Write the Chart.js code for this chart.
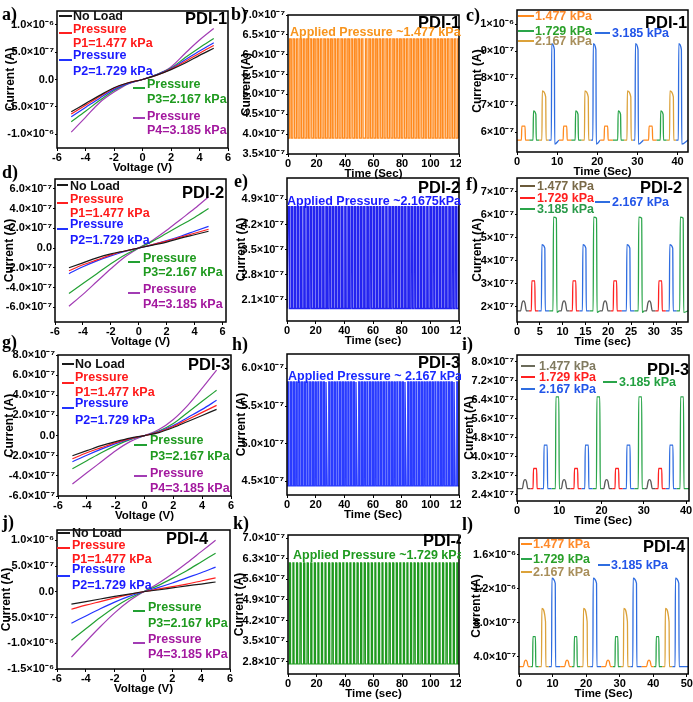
<!DOCTYPE html>
<html><head><meta charset="utf-8">
<script src="https://cdn.jsdelivr.net/npm/chart.js@4.4.1/dist/chart.umd.min.js"></script>
<style>
body{margin:0;width:693px;height:702px;position:relative;background:#fff;overflow:hidden;font-family:"Liberation Sans",Arial,sans-serif;}
canvas{position:absolute;}
.clip{position:absolute;overflow:hidden;left:230px;top:0;width:231px;height:702px;}
.t{position:absolute;font-weight:bold;white-space:nowrap;line-height:1;}
.lab{position:absolute;font-family:"Liberation Serif","Times New Roman",serif;font-weight:bold;font-size:18px;line-height:1;white-space:nowrap;}
.sw{position:absolute;height:0;border-top:2px solid;}
</style></head><body>
<div class="clip" id="mid"></div>
<script>
// ---------------- DATA ----------------
const ivVoltage = [-5,-4,-3,-2,-1,0,1,2,3,4,5];
// panel a (PDI-1)
const aNoLoad = [-5.9e-7,-4.4e-7,-2.9e-7,-1.5e-7,-0.6e-7,0,0.8e-7,1.8e-7,3.0e-7,4.4e-7,5.7e-7];
const aP1 = [-6.3e-7,-4.7e-7,-3.1e-7,-1.6e-7,-0.6e-7,0,0.8e-7,1.9e-7,3.3e-7,4.8e-7,6.2e-7];
const aP2 = [-6.8e-7,-5.1e-7,-3.4e-7,-1.8e-7,-0.7e-7,0,0.9e-7,2.0e-7,3.6e-7,5.2e-7,6.7e-7];
const aP3 = [-7.7e-7,-5.8e-7,-3.8e-7,-2.0e-7,-0.7e-7,0,0.9e-7,2.1e-7,4.0e-7,5.8e-7,7.5e-7];
const aP4 = [-9.6e-7,-6.9e-7,-4.2e-7,-2.3e-7,-0.8e-7,0,0.9e-7,2.3e-7,4.8e-7,7.2e-7,9.3e-7];
// panel d (PDI-2)
const dNoLoad = [-2.0e-7,-1.5e-7,-1.0e-7,-0.6e-7,-0.3e-7,0,0.3e-7,0.6e-7,1.0e-7,1.35e-7,1.7e-7];
const dP1 = [-2.3e-7,-1.7e-7,-1.2e-7,-0.7e-7,-0.3e-7,0,0.35e-7,0.7e-7,1.1e-7,1.5e-7,1.9e-7];
const dP2 = [-2.6e-7,-1.9e-7,-1.3e-7,-0.8e-7,-0.35e-7,0,0.35e-7,0.75e-7,1.2e-7,1.7e-7,2.2e-7];
const dP3 = [-4.6e-7,-3.6e-7,-2.6e-7,-1.6e-7,-0.7e-7,0,0.7e-7,1.5e-7,2.3e-7,3.1e-7,4.0e-7];
const dP4 = [-5.9e-7,-4.7e-7,-3.4e-7,-2.1e-7,-0.9e-7,0,0.8e-7,1.8e-7,2.9e-7,4.0e-7,5.2e-7];
// panel g (PDI-3)
const gNoLoad = [-2.0e-7,-1.5e-7,-1.0e-7,-0.6e-7,-0.25e-7,0,0.3e-7,0.8e-7,1.4e-7,2.0e-7,2.6e-7];
const gP1 = [-2.3e-7,-1.7e-7,-1.2e-7,-0.7e-7,-0.3e-7,0,0.35e-7,0.9e-7,1.6e-7,2.3e-7,3.0e-7];
const gP2 = [-2.6e-7,-1.95e-7,-1.35e-7,-0.8e-7,-0.35e-7,0,0.4e-7,1.0e-7,1.8e-7,2.6e-7,3.5e-7];
const gP3 = [-3.3e-7,-2.5e-7,-1.7e-7,-1.0e-7,-0.4e-7,0,0.45e-7,1.2e-7,2.3e-7,3.4e-7,4.5e-7];
const gP4 = [-4.8e-7,-3.7e-7,-2.6e-7,-1.5e-7,-0.6e-7,0,0.6e-7,1.6e-7,3.0e-7,4.7e-7,6.5e-7];
// panel j (PDI-4)
const jNoLoad = [-2.4e-7,-1.9e-7,-1.4e-7,-0.9e-7,-0.45e-7,0,0.35e-7,0.75e-7,1.15e-7,1.5e-7,1.9e-7];
const jP1 = [-3.4e-7,-2.6e-7,-1.9e-7,-1.2e-7,-0.55e-7,0,0.5e-7,1.0e-7,1.5e-7,2.1e-7,2.7e-7];
const jP2 = [-6.1e-7,-4.7e-7,-3.3e-7,-2.0e-7,-0.9e-7,0,0.8e-7,1.7e-7,2.7e-7,3.7e-7,4.8e-7];
const jP3 = [-9.4e-7,-7.2e-7,-5.0e-7,-3.0e-7,-1.3e-7,0,1.2e-7,2.6e-7,4.1e-7,5.8e-7,7.5e-7];
const jP4 = [-1.27e-6,-9.7e-7,-6.8e-7,-4.1e-7,-1.8e-7,0,1.6e-7,3.5e-7,5.6e-7,7.8e-7,1.0e-6];

// cycling panels: pulse onset times (s)
const bOnsets = [1.0,3.4,5.8,8.2,10.6,13.0,15.4,17.8,20.2,22.6,25.0,27.4,29.8,32.2,34.6,37.0,39.4,41.8,44.2,46.6,49.0,51.4,54.2,56.6,59.0,61.4,63.8,66.2,68.6,71.0,73.4,75.8,78.2,80.6,83.0,85.4,87.8,90.2,92.6,95.0,97.4,99.8,102.2,104.6,107.0,109.4,111.8,114.2,116.6,119.0];
const bHigh = 6.4e-7, bLow = 3.9e-7, bWidth = 1.3;
const eOnsets = [0.6,2.8,5.0,7.2,9.4,11.6,13.8,16.0,18.2,20.4,22.6,24.8,27.0,29.2,31.4,33.6,35.8,38.0,40.2,42.4,44.6,46.8,49.0,51.2,53.4,55.6,57.8,60.0,62.2,64.4,66.6,68.8,71.0,73.2,75.4,77.6,79.8,82.0,84.2,86.4,88.6,90.8,93.0,95.2,97.4,99.6,101.8,104.0,106.2,108.4,110.6,112.8,115.0,117.2,119.4];
const eHigh = 4.7e-7, eLow = 1.85e-7, eWidth = 1.1;
const hOnsets = [0.5,2.4,4.3,6.2,8.1,10.0,11.9,13.8,15.7,17.6,19.5,21.4,23.3,25.2,27.1,29.0,30.9,32.8,34.7,36.6,38.5,40.4,42.3,44.2,46.1,48.0,49.9,51.8,53.7,55.6,57.5,59.4,61.3,63.2,65.1,67.0,68.9,70.8,72.7,74.6,76.5,78.4,80.3,82.2,84.1,86.0,87.9,89.8,91.7,93.6,95.5,97.4,99.3,101.2,103.1,105.0,106.9,108.8,110.7,112.6,114.5,116.4,118.3];
const hHigh = 5.82e-7, hLow = 4.44e-7, hWidth = 0.95;
const kOnsets = [0.8,3.3,5.8,8.3,10.8,13.3,15.8,18.3,20.8,23.3,25.8,28.3,30.8,33.3,35.8,38.3,40.8,43.3,45.8,48.3,50.8,53.3,55.8,58.3,60.8,63.3,65.8,68.3,70.8,73.3,75.8,78.3,80.8,83.3,85.8,88.3,90.8,93.3,95.8,98.3,100.8,103.3,105.8,108.3,110.8,113.3,115.8,118.3];
const kHigh = 6.16e-7, kLow = 2.72e-7, kWidth = 1.0;

// panel c (PDI-1 step response)
const cBase = 5.7e-7;
const c1477On = [1.1,11.5,21.7,32.8], c1477Peak = 6.22e-7, c1477W = 1.0;
const c1729On = [4.0,14.5,25.1,35.7], c1729Peak = 6.78e-7, c1729End = 6.65e-7, c1729W = 0.8;
const c2167On = [6.2,16.8,27.4,38.0], c2167Peak = 7.52e-7, c2167End = 7.3e-7, c2167W = 1.05;
const c3185On = [8.55,18.9,29.4,40.2], c3185Peak = 9.27e-7, c3185End = 9.05e-7, c3185W = 0.85, c3185Under = 5.55e-7;
// panel f (PDI-2)
const fBase = 1.82e-7;
const f1477On = [0.8,9.7,18.7,28.4], f1477Peak = 2.25e-7, f1477W = 1.25;
const f1729On = [3.15,12.15,21.1,31.0], f1729Peak = 3.12e-7, f1729W = 0.85;
const f2167On = [5.35,14.35,24.0,33.4], f2167Peak = 4.7e-7, f2167End = 4.55e-7, f2167W = 0.85;
const f3185On = [7.9,16.7,26.6,35.7], f3185Peak = 5.9e-7, f3185End = 5.85e-7, f3185W = 0.85, f3185Under = 1.75e-7;
// panel i (PDI-3)
const iBase = 2.65e-7;
const i1477On = [1.26,10.5,20.55,30.7], i1477Peak = 3.03e-7, i1477W = 1.3;
const i1729On = [3.8,13.5,23.2,33.4], i1729Peak = 3.5e-7, i1729W = 0.95;
const i2167On = [6.3,16.05,25.9,36.05], i2167Peak = 4.48e-7, i2167W = 0.95;
const i3185On = [9.1,18.8,28.7,38.6], i3185Peak = 6.52e-7, i3185W = 0.9;
// panel l (PDI-4)
const lBase = 2.82e-7;
const l1477On = [1.3,13.6,25.8,38.0], l1477Peak = 3.6e-7, l1477W = 1.45;
const l1729On = [4.05,16.4,28.6,40.8], l1729Peak = 6.36e-7, l1729W = 0.95;
const l2167On = [6.7,19.1,31.1,43.5], l2167Peak = 9.7e-7, l2167End = 8.13e-7, l2167W = 1.3;
const l3185On = [9.7,22.0,33.9,46.5], l3185Peak = 1.325e-6, l3185End = 1.265e-6, l3185W = 1.2;

// tick values and labels
const ivXTicks = [-6,-4,-2,0,2,4,6];
const aYTicks = [1.0e-6,5.0e-7,0,-5.0e-7,-1.0e-6];
const aYLabels = ['1.0×10⁻⁶','5.0×10⁻⁷','0.0','-5.0×10⁻⁷','-1.0×10⁻⁶'];
const timeXTicks = [0,20,40,60,80,100,120];
const bYTicks = [7.0e-7,6.5e-7,6.0e-7,5.5e-7,5.0e-7,4.5e-7,4.0e-7,3.5e-7];
const bYLabels = ['7.0×10⁻⁷','6.5×10⁻⁷','6.0×10⁻⁷','5.5×10⁻⁷','5.0×10⁻⁷','4.5×10⁻⁷','4.0×10⁻⁷','3.5×10⁻⁷'];
const cXTicks = [0,10,20,30,40];
const cYTicks = [1e-6,9e-7,8e-7,7e-7,6e-7];
const cYLabels = ['1×10⁻⁶','9×10⁻⁷','8×10⁻⁷','7×10⁻⁷','6×10⁻⁷'];
const dYTicks = [6e-7,4e-7,2e-7,0,-2e-7,-4e-7,-6e-7];
const dYLabels = ['6.0×10⁻⁷','4.0×10⁻⁷','2.0×10⁻⁷','0.0','-2.0×10⁻⁷','-4.0×10⁻⁷','-6.0×10⁻⁷'];
const eYTicks = [4.9e-7,4.2e-7,3.5e-7,2.8e-7,2.1e-7];
const eYLabels = ['4.9×10⁻⁷','4.2×10⁻⁷','3.5×10⁻⁷','2.8×10⁻⁷','2.1×10⁻⁷'];
const fXTicks = [0,5,10,15,20,25,30,35];
const fYTicks = [7e-7,6e-7,5e-7,4e-7,3e-7,2e-7];
const fYLabels = ['7×10⁻⁷','6×10⁻⁷','5×10⁻⁷','4×10⁻⁷','3×10⁻⁷','2×10⁻⁷'];
const gYTicks = [8e-7,6e-7,4e-7,2e-7,0,-2e-7,-4e-7,-6e-7];
const gYLabels = ['8.0×10⁻⁷','6.0×10⁻⁷','4.0×10⁻⁷','2.0×10⁻⁷','0.0','-2.0×10⁻⁷','-4.0×10⁻⁷','-6.0×10⁻⁷'];
const hYTicks = [6.0e-7,5.5e-7,5.0e-7,4.5e-7];
const hYLabels = ['6.0×10⁻⁷','5.5×10⁻⁷','5.0×10⁻⁷','4.5×10⁻⁷'];
const iXTicks = [0,10,20,30,40];
const iYTicks = [8.0e-7,7.2e-7,6.4e-7,5.6e-7,4.8e-7,4.0e-7,3.2e-7,2.4e-7];
const iYLabels = ['8.0×10⁻⁷','7.2×10⁻⁷','6.4×10⁻⁷','5.6×10⁻⁷','4.8×10⁻⁷','4.0×10⁻⁷','3.2×10⁻⁷','2.4×10⁻⁷'];
const jYTicks = [1e-6,5e-7,0,-5e-7,-1e-6,-1.5e-6];
const jYLabels = ['1.0×10⁻⁶','5.0×10⁻⁷','0.0','-5.0×10⁻⁷','-1.0×10⁻⁶','-1.5×10⁻⁶'];
const kYTicks = [7.0e-7,6.3e-7,5.6e-7,4.9e-7,4.2e-7,3.5e-7,2.8e-7];
const kYLabels = ['7.0×10⁻⁷','6.3×10⁻⁷','5.6×10⁻⁷','4.9×10⁻⁷','4.2×10⁻⁷','3.5×10⁻⁷','2.8×10⁻⁷'];
const lXTicks = [0,10,20,30,40,50];
const lYTicks = [1.6e-6,1.2e-6,8.0e-7,4.0e-7];
const lYLabels = ['1.6×10⁻⁶','1.2×10⁻⁶','8.0×10⁻⁷','4.0×10⁻⁷'];

// ---------------- STYLE ----------------
const FONT = '"Liberation Sans", Arial, Helvetica, sans-serif';
const C = {black:'#1a1a1a', red:'#ff2020', blue:'#2233ff', green:'#22a033', purple:'#a23cb4',
  orange:'#ff8a1e', tan:'#dca23a', sblue:'#2f6de0', sgreen:'#2aa54a', gray:'#5a5a5a'};

// ---------------- BUILDERS ----------------
function ivSet(vals, color){ return {data: ivVoltage.map((v,i)=>({x:v,y:vals[i]})), borderColor:color, borderWidth:1.2, pointRadius:0, tension:0.4, cubicInterpolationMode:'monotone'}; }
function trainSet(onsets, width, hi, lo, xmax, color, lw){
  const pts=[{x:0,y:lo}];
  onsets.forEach(t=>{ pts.push({x:t,y:lo},{x:t+0.15,y:hi},{x:t+width-0.15,y:hi},{x:t+width,y:lo}); });
  pts.push({x:xmax,y:lo});
  return {data:pts, borderColor:color, borderWidth:lw, pointRadius:0, tension:0};
}
function stepSets(pulses, xmin, xmax){
  pulses.sort((a,b)=>a.on-b.on);
  const out={};
  pulses.forEach((p,i)=>{
    const end=p.on+p.w;
    const s = i===0 ? xmin : (pulses[i-1].on+pulses[i-1].w+p.on)/2;
    const e = i===pulses.length-1 ? xmax : (end+pulses[i+1].on)/2;
    const pts=[{x:s,y:p.base},{x:p.on,y:p.base}];
    if(p.hump){
      const d=p.peak-p.base;
      pts.push({x:p.on+p.w*0.25,y:p.base+d*0.8},{x:p.on+p.w*0.5,y:p.peak},{x:p.on+p.w*0.75,y:p.base+d*0.8});
    } else {
      pts.push({x:p.on+0.1,y:p.peak},{x:end-0.1,y:p.peakEnd});
    }
    pts.push({x:end,y:p.after},{x:e,y:p.base},{x:e,y:null});
    (out[p.key]=out[p.key]||[]).push(...pts);
  });
  return out;
}
function pulsesOf(key, ons, w, peak, peakEnd, base, after, hump){
  return ons.map(on=>({key, on, w, peak, peakEnd:peakEnd??peak, base, after:after??base, hump:!!hump}));
}
function lineSet(data, color){ return {data, borderColor:color, borderWidth:1.3, pointRadius:0, tension:0.3, cubicInterpolationMode:'monotone', spanGaps:false}; }

const framePlugin = {id:'frame', afterDraw(chart){ const {ctx, chartArea:a}=chart; ctx.save(); ctx.strokeStyle='#000'; ctx.lineWidth=1.5; ctx.strokeRect(a.left,a.top,a.right-a.left,a.bottom-a.top); ctx.restore(); }};

const mid = document.getElementById('mid');
function makePanel(p){
  const padTop=9, padRight=p.padRight??12, xH=p.xH??27;
  const parent = p.mid ? mid : document.body;
  const off = p.mid ? 230 : 0;
  const left = Math.round(p.ytx - 7.2);
  const top = Math.round(p.T - padTop);
  const W = Math.round(p.R + padRight - left), H = Math.round(p.B + xH - top);
  const cv = document.createElement('canvas');
  cv.width=W; cv.height=H; cv.style.width=W+'px'; cv.style.height=H+'px';
  cv.style.left=(left-off)+'px'; cv.style.top=top+'px';
  parent.appendChild(cv);
  const yW = p.L - left, xHeight = xH;
  const tickFont={family:FONT,size:11,weight:'bold'};
  new Chart(cv,{type:'line', data:{datasets:p.datasets}, plugins:[framePlugin],
    options:{responsive:false, animation:false, devicePixelRatio:1, events:[],
      layout:{padding:{top:padTop,right:padRight,left:0,bottom:0}},
      plugins:{legend:{display:false}, tooltip:{enabled:false}},
      scales:{
        x:{type:'linear', min:p.xmin, max:p.xmax, bounds:'data',
          afterBuildTicks:s=>{s.ticks=p.xTicks.map(v=>({value:v}));},
          afterFit:s=>{s.height=xHeight;},
          grid:{display:true, drawOnChartArea:false, drawTicks:true, tickLength:3, color:'#000', lineWidth:1},
          border:{display:false},
          ticks:{padding:0, color:'#000', font:tickFont, maxRotation:0, autoSkip:false, callback:(v,i)=>String(p.xTicks[i])},
          title:{display:true, text:p.xTitle, color:'#000', font:{family:FONT,size:11.5,weight:'bold'}, padding:{top:0,bottom:0}}},
        y:{type:'linear', min:p.ymin, max:p.ymax, bounds:'data',
          afterBuildTicks:s=>{s.ticks=p.yTicks.map(v=>({value:v}));},
          afterFit:s=>{s.width=yW;},
          grid:{display:true, drawOnChartArea:false, drawTicks:true, tickLength:2, color:'#000', lineWidth:1},
          border:{display:false},
          ticks:{padding:1, color:'#000', font:tickFont, autoSkip:false, callback:(v,i)=>p.yLabels[i]},
          title:{display:true, text:'Current (A)', color:'#000', font:{family:FONT,size:12,weight:'bold'}, padding:{top:0,bottom:0}}}
      }}});
}

// overlay helpers
function txt(x, yc, s, color, size, isMid){
  const d=document.createElement('div'); d.className='t'; d.textContent=s;
  d.style.left=(x-(isMid?230:0))+'px'; d.style.top=(yc-size*0.49)+'px'; d.style.fontSize=size+'px'; d.style.color=color;
  (isMid?mid:document.body).appendChild(d);
}
function sw(x1, x2, y, color){
  const d=document.createElement('div'); d.className='sw';
  d.style.left=x1+'px'; d.style.width=(x2-x1)+'px'; d.style.top=(y-1)+'px'; d.style.borderColor=color;
  document.body.appendChild(d);
}
function lab(x, yc, s){
  const d=document.createElement('div'); d.className='lab'; d.textContent=s;
  d.style.left=x+'px'; d.style.top=(yc-9)+'px'; document.body.appendChild(d);
}

// ---------------- PANELS ----------------
const ivColors=[C.black,C.red,C.blue,C.green,C.purple];
function ivDatasets(arrs){ return arrs.map((a,i)=>ivSet(a,ivColors[i])); }

makePanel({L:57,T:11,R:228,B:148,ytx:10,xmin:-6,xmax:6,ymin:-1.25e-6,ymax:1.25e-6,xTicks:ivXTicks,yTicks:aYTicks,yLabels:aYLabels,xTitle:'Voltage (V)',
  datasets:ivDatasets([aNoLoad,aP1,aP2,aP3,aP4])});
makePanel({L:288,T:15,R:459,B:154,ytx:246,xmin:0,xmax:120,ymin:3.5e-7,ymax:7.0e-7,xTicks:timeXTicks,yTicks:bYTicks,yLabels:bYLabels,xTitle:'Time (Sec)',mid:true,
  datasets:[trainSet(bOnsets,bWidth,bHigh,bLow,120,C.orange,1.3)]});
{
  const s=stepSets([...pulsesOf('a',c1477On,c1477W,c1477Peak,null,cBase),...pulsesOf('b',c1729On,c1729W,c1729Peak,c1729End,cBase),
    ...pulsesOf('c',c2167On,c2167W,c2167Peak,c2167End,cBase),...pulsesOf('d',c3185On,c3185W,c3185Peak,c3185End,cBase,c3185Under)],0,42.6);
  makePanel({L:517,T:10,R:688,B:152,ytx:477,xmin:0,xmax:42.6,ymin:5.26e-7,ymax:1.052e-6,xTicks:cXTicks,yTicks:cYTicks,yLabels:cYLabels,xTitle:'Time (Sec)',padRight:4,
    datasets:[lineSet(s.a,C.orange),lineSet(s.b,C.sgreen),lineSet(s.c,C.tan),lineSet(s.d,C.sblue)]});
}
makePanel({L:55,T:179,R:226,B:322,ytx:9,xmin:-6,xmax:6.25,ymin:-7.5e-7,ymax:7.0e-7,xTicks:ivXTicks,yTicks:dYTicks,yLabels:dYLabels,xTitle:'Voltage (V)',
  datasets:ivDatasets([dNoLoad,dP1,dP2,dP3,dP4])});
makePanel({L:287,T:178,R:459,B:321,ytx:241,xmin:0,xmax:120,ymin:1.5e-7,ymax:5.5e-7,xTicks:timeXTicks,yTicks:eYTicks,yLabels:eYLabels,xTitle:'Time (sec)',mid:true,
  datasets:[trainSet(eOnsets,eWidth,eHigh,eLow,120,'#2424f0',1.4)]});
{
  const s=stepSets([...pulsesOf('a',f1477On,f1477W,f1477Peak,null,fBase,null,true),...pulsesOf('b',f1729On,f1729W,f1729Peak,null,fBase),
    ...pulsesOf('c',f2167On,f2167W,f2167Peak,f2167End,fBase),...pulsesOf('d',f3185On,f3185W,f3185Peak,f3185End,fBase,f3185Under)],0,37.5);
  makePanel({L:517,T:178,R:688,B:322,ytx:477,xmin:0,xmax:37.5,ymin:1.335e-7,ymax:7.6e-7,xTicks:fXTicks,yTicks:fYTicks,yLabels:fYLabels,xTitle:'Time (sec)',padRight:4,
    datasets:[lineSet(s.a,C.gray),lineSet(s.b,C.red),lineSet(s.c,C.sblue),lineSet(s.d,C.sgreen)]});
}
makePanel({L:58,T:355,R:231,B:496,ytx:9,xmin:-6,xmax:6,ymin:-6e-7,ymax:8e-7,xTicks:ivXTicks,yTicks:gYTicks,yLabels:gYLabels,xTitle:'Voltage (V)',
  datasets:ivDatasets([gNoLoad,gP1,gP2,gP3,gP4])});
makePanel({L:287,T:354,R:459,B:495,ytx:241,xmin:0,xmax:120,ymin:4.32e-7,ymax:6.19e-7,xTicks:timeXTicks,yTicks:hYTicks,yLabels:hYLabels,xTitle:'Time (Sec)',mid:true,
  datasets:[trainSet(hOnsets,hWidth,hHigh,hLow,120,'#2a3cff',1.3)]});
{
  const s=stepSets([...pulsesOf('a',i1477On,i1477W,i1477Peak,null,iBase,null,true),...pulsesOf('b',i1729On,i1729W,i1729Peak,null,iBase),
    ...pulsesOf('c',i2167On,i2167W,i2167Peak,null,iBase),...pulsesOf('d',i3185On,i3185W,i3185Peak,null,iBase)],0,40.7);
  makePanel({L:517,T:355,R:689,B:501,ytx:469,xmin:0,xmax:40.7,ymin:2.13e-7,ymax:8.28e-7,xTicks:iXTicks,yTicks:iYTicks,yLabels:iYLabels,xTitle:'Time (Sec)',padRight:4,
    datasets:[lineSet(s.a,C.gray),lineSet(s.b,C.red),lineSet(s.c,C.sblue),lineSet(s.d,C.sgreen)]});
}
makePanel({L:57,T:530,R:230,B:669,ytx:6,xmin:-6,xmax:6,ymin:-1.5e-6,ymax:1.2e-6,xTicks:ivXTicks,yTicks:jYTicks,yLabels:jYLabels,xTitle:'Voltage (V)',
  datasets:ivDatasets([jNoLoad,jP1,jP2,jP3,jP4])});
makePanel({L:288,T:535,R:459,B:674,ytx:239,xmin:0,xmax:120,ymin:2.38e-7,ymax:7.11e-7,xTicks:timeXTicks,yTicks:kYTicks,yLabels:kYLabels,xTitle:'Time (sec)',mid:true,
  datasets:[trainSet(kOnsets,kWidth,kHigh,kLow,120,'#1f9a1f',1.2)]});
{
  const s=stepSets([...pulsesOf('a',l1477On,l1477W,l1477Peak,null,lBase,null,true),...pulsesOf('b',l1729On,l1729W,l1729Peak,null,lBase),
    ...pulsesOf('c',l2167On,l2167W,l2167Peak,l2167End,lBase),...pulsesOf('d',l3185On,l3185W,l3185Peak,l3185End,lBase)],0,50.4);
  makePanel({L:519,T:538,R:689,B:674,ytx:476,xmin:0,xmax:50.4,ymin:1.96e-7,ymax:1.8e-6,xTicks:lXTicks,yTicks:lYTicks,yLabels:lYLabels,xTitle:'Time (Sec)',padRight:4,
    datasets:[lineSet(s.a,C.orange),lineSet(s.b,C.sgreen),lineSet(s.c,C.tan),lineSet(s.d,C.sblue)]});
}

// ---------------- OVERLAY TEXT ----------------
const LS=12.5, PS=16.5;
const T_RED='#ff1a1a', T_BLUE='#1a1aff', T_GREEN='#1f9a1f', T_PURPLE='#a3199f';
function ivLegend(x1,x2,tx, y, gx1,gx2,gtx, pdiX, pdiY, pdi){
  sw(x1,x2,y[1],C.black); txt(tx,y[0],'No Load','#111',LS);
  sw(x1,x2,y[3],C.red); txt(tx,y[2],'Pressure',T_RED,LS); txt(tx,y[4],'P1=1.477 kPa',T_RED,LS);
  sw(x1,x2,y[6],C.blue); txt(tx,y[5],'Pressure',T_BLUE,LS); txt(tx,y[7],'P2=1.729 kPa',T_BLUE,LS);
  sw(gx1,gx2,y[9],C.green); txt(gtx,y[8],'Pressure',T_GREEN,LS); txt(gtx,y[10],'P3=2.167 kPa',T_GREEN,LS);
  sw(gx1,gx2,y[12],C.purple); txt(gtx,y[11],'Pressure',T_PURPLE,LS); txt(gtx,y[13],'P4=3.185 kPa',T_PURPLE,LS);
  txt(pdiX,pdiY,pdi,'#000',PS);
}
ivLegend(59,72,73,[16,16,29,33,43,55,60,71,84,88,99,116,118,130],133,145,147,185,18,'PDI-1');
ivLegend(57,68,70,[186,185,199,203,213,224,229,240,258,262,272,289,293,304],128,140,143,182,192,'PDI-2');
ivLegend(62,74,75,[364,364,377,383,392,403,408,420,440,445,456,473,476,488],134,147,150,188,364,'PDI-3');
ivLegend(57,70,72,[533,533,545,548,559,569,576,585,607,611,623,639,643,654],133,145,148,166,538,'PDI-4');

txt(418,22,'PDI-1','#000',PS,true); txt(290,32,'Applied Pressure ~1.477 kPa','#f7941d',LS,true);
txt(418,187,'PDI-2','#000',PS,true); txt(287,201,'Applied Pressure ~2.1675kPa','#1a1aff',LS,true);
txt(418,362,'PDI-3','#000',PS,true); txt(288,376,'Applied Pressure ~ 2.167 kPa','#1a2aff',LS,true);
txt(423,540,'PDI-4','#000',PS,true); txt(293,555,'Applied Pressure ~1.729 kPa','#1f9a1f',LS,true);

function stepLegend(items, pdiX, pdiY, pdi){
  items.forEach(it=>{ sw(it[0],it[1],it[2],it[3]); txt(it[4],it[2],it[5],it[6],LS); });
  txt(pdiX,pdiY,pdi,'#000',PS);
}
stepLegend([[518,534,16,C.orange,535,'1.477 kPa','#ff8a2a'],[518,534,31,C.sgreen,535,'1.729 kPa','#2aa02a'],[518,534,41,C.tan,535,'2.167 kPa','#a88e5a'],[595,610,33,C.sblue,612,'3.185 kPa','#2255e8']],645,22,'PDI-1');
stepLegend([[520,535,186,'#6b5a3a',537,'1.477 kPa','#7a6a48'],[520,535,198,C.red,537,'1.729 kPa','#ff2020'],[520,535,209,C.sgreen,537,'3.185 kPa','#2a9a4a'],[595,610,202,C.sblue,612,'2.167 kPa','#2255e8']],640,187,'PDI-2');
stepLegend([[521,535,366,'#6b6b5a',539,'1.477 kPa','#807a60'],[521,535,377,C.red,539,'1.729 kPa','#ff2020'],[521,535,389,C.sblue,539,'2.167 kPa','#2255e8'],[603,617,382,C.sgreen,619,'3.185 kPa','#22a040']],647,369,'PDI-3');
stepLegend([[521,532,544,C.orange,533,'1.477 kPa','#ff8a2a'],[521,532,559,C.sgreen,533,'1.729 kPa','#2aa02a'],[521,532,572,C.tan,533,'2.167 kPa','#a88e5a'],[598,610,565,C.sblue,611,'3.185 kPa','#2255e8']],643,546,'PDI-4');

lab(2,14,'a)'); lab(231,14,'b)'); lab(466,15,'c)');
lab(2,172,'d)'); lab(234,181,'e)'); lab(466,184,'f)');
lab(2,342,'g)'); lab(232,344,'h)'); lab(462,344,'i)');
lab(2,522,'j)'); lab(233,523,'k)'); lab(462,524,'l)');
</script>
</body></html>
